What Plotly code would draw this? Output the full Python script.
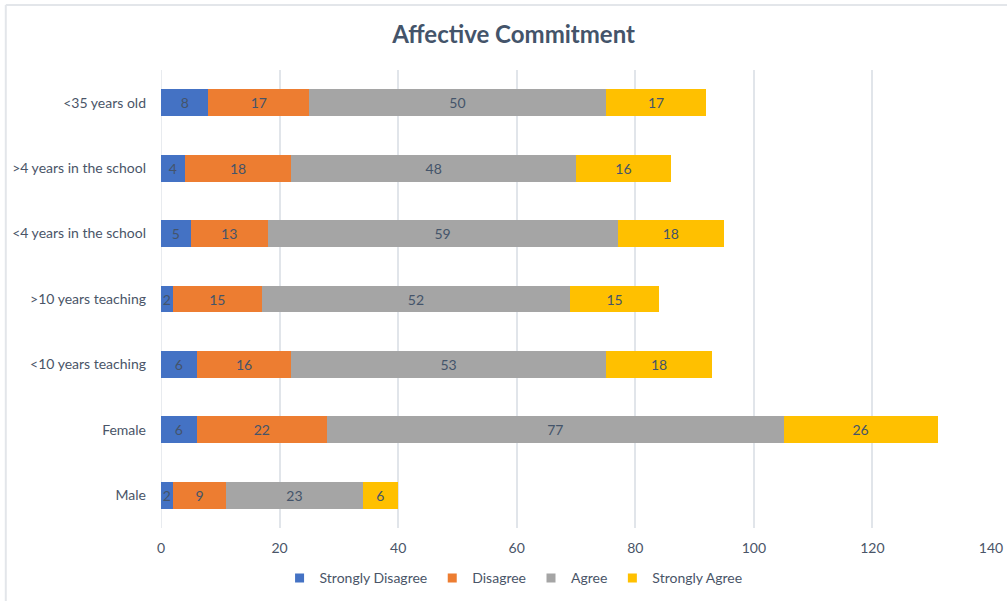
import plotly.graph_objects as go

# Survey groups (bottom to top) and response counts per group
categories = [
    "Male",
    "Female",
    "<10 years teaching",
    ">10 years teaching",
    "<4 years in the school",
    ">4 years in the school",
    "<35 years old",
]
strongly_disagree = [2, 6, 6, 2, 5, 4, 8]
disagree = [9, 22, 16, 15, 13, 18, 17]
agree = [23, 77, 53, 52, 59, 48, 50]
strongly_agree = [6, 26, 18, 15, 18, 16, 17]

series = [
    ("Strongly Disagree", strongly_disagree, "#4472C4"),
    ("Disagree", disagree, "#ED7D31"),
    ("Agree", agree, "#A5A5A5"),
    ("Strongly Agree", strongly_agree, "#FFC000"),
]

FONT = "Lato, 'Open Sans', sans-serif"
TEXT_COLOR = "#4a5568"

fig = go.Figure()
for name, vals, color in series:
    fig.add_trace(go.Bar(
        y=categories,
        x=vals,
        name=name,
        orientation="h",
        marker=dict(color=color, line=dict(width=0)),
        text=[str(v) for v in vals],
        textposition="inside",
        insidetextanchor="middle",
        textfont=dict(family=FONT, size=14, color="#44546A"),
        constraintext="none",
        showlegend=False,
    ))
    # Compact square legend swatch for each series
    fig.add_trace(go.Scatter(
        x=[None], y=[None],
        mode="markers",
        name=name,
        marker=dict(symbol="square", size=9, color=color),
        showlegend=True,
    ))

fig.update_layout(
    barmode="stack",
    bargap=0.59,
    width=1007,
    height=601,
    margin=dict(l=161, r=16, t=70, b=73, autoexpand=False),
    paper_bgcolor="white",
    plot_bgcolor="white",
    font=dict(family=FONT, color=TEXT_COLOR),
    uniformtext=dict(minsize=14, mode="show"),
    title=dict(
        text="<b>Affective Commitment</b>",
        x=0.51,
        xref="container",
        xanchor="center",
        y=0.942,
        yanchor="middle",
        font=dict(family=FONT, size=24, color="#44546A"),
    ),
    xaxis=dict(
        range=[0, 140],
        dtick=20,
        tick0=0,
        showgrid=True,
        gridcolor="#E1E5EA",
        gridwidth=1.5,
        zeroline=False,
        showline=False,
        ticks="",
        automargin=False,
        ticklabelstandoff=10,
        tickfont=dict(family=FONT, size=14, color=TEXT_COLOR),
    ),
    yaxis=dict(
        categoryorder="array",
        categoryarray=categories,
        showgrid=False,
        zeroline=False,
        showline=False,
        ticks="",
        automargin=False,
        ticklabelstandoff=14,
        tickfont=dict(family=FONT, size=14, color=TEXT_COLOR),
    ),
    legend=dict(
        orientation="h",
        xref="container",
        x=0.51,
        xanchor="center",
        y=-0.11,
        yanchor="middle",
        font=dict(family=FONT, size=14, color=TEXT_COLOR),
        itemwidth=30,
        tracegroupgap=0,
        traceorder="normal",
    ),
)

# Zero line on the category axis side
fig.add_shape(type="line", xref="x", yref="paper", x0=0, x1=0, y0=0, y1=1,
              line=dict(color="#E1E5EA", width=1.5), layer="below")

# Light frame around the chart area (top and left edges)
fig.add_shape(type="line", xref="paper", yref="paper",
              x0=-0.187, x1=1.03, y0=1.142, y1=1.142,
              line=dict(color="#E3E6EA", width=2))
fig.add_shape(type="line", xref="paper", yref="paper",
              x0=-0.187, x1=-0.187, y0=-0.2, y1=1.142,
              line=dict(color="#E3E6EA", width=2))

fig.write_html("out.html")
